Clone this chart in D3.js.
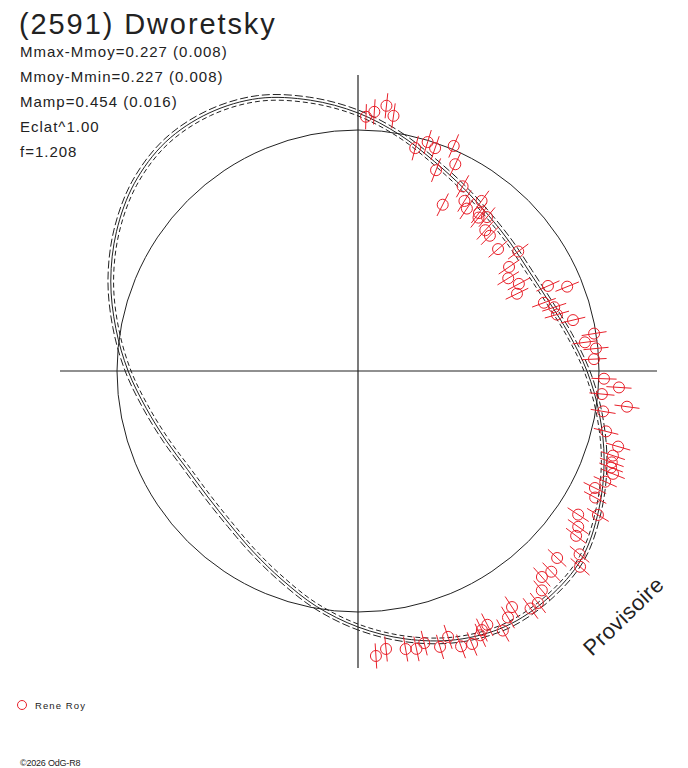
<!DOCTYPE html>
<html>
<head>
<meta charset="utf-8">
<script src="https://cdn.jsdelivr.net/npm/d3@7"></script>
<style>
  body { margin: 0; background: #fff; }
  svg text { font-family: "Liberation Sans", Arial, sans-serif; fill: #222; }
</style>
</head>
<body>
<script>
// observations (Rene Roy): rotation phase and relative magnitude
var obsPhase = [0.005, 0.010, 0.017, 0.022, 0.040, 0.047, 0.053, 0.059, 0.064, 0.070,
                0.075, 0.082, 0.089, 0.094, 0.100, 0.104, 0.106, 0.111, 0.117, 0.123,
                0.136, 0.148, 0.154, 0.162, 0.171, 0.178, 0.183, 0.189, 0.194, 0.200,
                0.206, 0.213, 0.225, 0.230, 0.235, 0.242, 0.255, 0.260, 0.265, 0.271,
                0.276, 0.288, 0.295, 0.301, 0.305, 0.308, 0.311, 0.317, 0.323, 0.328,
                0.336, 0.342, 0.348, 0.353, 0.360, 0.365, 0.370, 0.378, 0.384, 0.389,
                0.395, 0.400, 0.408, 0.413, 0.419, 0.425, 0.429, 0.431, 0.437, 0.443,
                0.448, 0.454, 0.462, 0.467, 0.473, 0.484, 0.490];
var obsMag = [-0.041, -0.064, -0.095, -0.055, 0.065, 0.025, 0.040, 0.129, 0.002, 0.072,
              0.255, 0.143, 0.194, 0.216, 0.152, 0.201, 0.218, 0.193, 0.241, 0.245,
              0.259, 0.197, 0.269, 0.299, 0.271, 0.298, 0.161, 0.085, 0.205, 0.169,
              0.167, 0.105, 0.026, 0.071, 0.026, 0.038, -0.005, -0.072, 0.000, -0.115,
              -0.015, -0.045, -0.113, -0.103, -0.108, -0.113, -0.131, -0.113, -0.084, -0.104,
              -0.152, -0.078, -0.108, -0.124, -0.186, -0.223, -0.123, -0.147, -0.136, -0.180,
              -0.212, -0.212, -0.161, -0.190, -0.228, -0.174, -0.184, -0.202, -0.222, -0.214,
              -0.156, -0.187, -0.153, -0.170, -0.162, -0.150, -0.177];
var obsErr = 0.055;

// fitted curve, read every 10 degrees of phase
var fitAngle = [0, 10, 20, 30, 40, 50, 60, 70, 80, 90, 100, 110,
                120, 130, 140, 150, 160, 170, 180, 190, 200, 210, 220, 230,
                240, 250, 260, 270, 280, 290, 300, 310, 320, 330, 340, 350];
var fitMag = [-0.057, 0.022, 0.096, 0.148, 0.183, 0.201, 0.205, 0.183, 0.135, 0.070, 0.000, -0.074,
              -0.144, -0.205, -0.223, -0.218, -0.179, -0.118, -0.048, 0.026, 0.100, 0.157, 0.197, 0.214,
              0.210, 0.179, 0.131, 0.066, -0.004, -0.079, -0.148, -0.205, -0.236, -0.231, -0.197, -0.131];
var fitSigma = 0.013;
var circleMag = 0.0175;

var infoLines = ["Mmax-Mmoy=0.227 (0.008)", "Mmoy-Mmin=0.227 (0.008)",
                 "Mamp=0.454 (0.016)", "Eclat^1.00", "f=1.208"];

var width = 688, height = 768;
var cx = 358, cy = 371, axisHalf = 297;

var svg = d3.select("body").append("svg")
    .attr("width", width)
    .attr("height", height);

// brighter = further out
var rScale = d3.scaleLinear()
    .domain([-0.3, 0.3])
    .range([245 + 0.3 * 229, 245 - 0.3 * 229]);

var plot = svg.append("g")
    .attr("transform", "translate(" + cx + "," + cy + ")");

plot.append("line")
    .attr("x1", -axisHalf - 1).attr("x2", axisHalf + 2)
    .attr("y1", 0).attr("y2", 0)
    .attr("stroke", "#222").attr("stroke-width", 1.2);
plot.append("line")
    .attr("x1", 0).attr("x2", 0)
    .attr("y1", -axisHalf + 1).attr("y2", axisHalf)
    .attr("stroke", "#222").attr("stroke-width", 1.2);

plot.append("circle")
    .attr("r", rScale(circleMag))
    .attr("fill", "none")
    .attr("stroke", "#222");

var fit = fitAngle.map(function(a, i) {
    return { phase: a / 360, mag: fitMag[i] };
});

function curveFor(offset) {
    return d3.lineRadial()
        .angle(function(d) { return d.phase * 2 * Math.PI; })
        .radius(function(d) { return rScale(d.mag + offset); })
        .curve(d3.curveCatmullRomClosed.alpha(0.5));
}

var curves = [
    { offset: -fitSigma, dash: "8,3" },
    { offset: fitSigma, dash: "5,3" },
    { offset: 0, dash: null }
];

plot.selectAll(".fit")
    .data(curves)
    .enter()
    .append("path")
    .attr("class", "fit")
    .attr("d", function(c) { return curveFor(c.offset)(fit); })
    .attr("fill", "none")
    .attr("stroke", "#222")
    .attr("stroke-width", 1)
    .attr("stroke-dasharray", function(c) { return c.dash; });

var obs = obsPhase.map(function(p, i) {
    return { phase: p, mag: obsMag[i] };
});

function polar(phase, r) {
    var a = phase * 2 * Math.PI;
    return [r * Math.sin(a), -r * Math.cos(a)];
}

var red = "#e8202a";

plot.selectAll(".errbar")
    .data(obs)
    .enter()
    .append("line")
    .attr("class", "errbar")
    .attr("x1", function(d) { return polar(d.phase, rScale(d.mag - obsErr))[0]; })
    .attr("y1", function(d) { return polar(d.phase, rScale(d.mag - obsErr))[1]; })
    .attr("x2", function(d) { return polar(d.phase, rScale(d.mag + obsErr))[0]; })
    .attr("y2", function(d) { return polar(d.phase, rScale(d.mag + obsErr))[1]; })
    .attr("stroke", red)
    .attr("stroke-width", 1);

plot.selectAll(".obs")
    .data(obs)
    .enter()
    .append("circle")
    .attr("class", "obs")
    .attr("cx", function(d) { return polar(d.phase, rScale(d.mag))[0]; })
    .attr("cy", function(d) { return polar(d.phase, rScale(d.mag))[1]; })
    .attr("r", 5.5)
    .attr("fill", "none")
    .attr("stroke", red)
    .attr("stroke-width", 1);

// texts
svg.append("text")
    .attr("x", 19).attr("y", 34)
    .style("font-size", "29px")
    .style("letter-spacing", "1.9px")
    .text("(2591) Dworetsky");

svg.selectAll(".info")
    .data(infoLines)
    .enter()
    .append("text")
    .attr("class", "info")
    .attr("x", 20)
    .attr("y", function(d, i) { return 57 + i * 25; })
    .style("font-size", "15px")
    .style("letter-spacing", "1px")
    .text(function(d) { return d; });

svg.append("text")
    .attr("transform", "translate(592,657) rotate(-44)")
    .style("font-size", "22px")
    .style("letter-spacing", "0.4px")
    .text("Provisoire");

svg.append("circle")
    .attr("cx", 22).attr("cy", 705).attr("r", 4.5)
    .attr("fill", "none")
    .attr("stroke", red);
svg.append("text")
    .attr("x", 35).attr("y", 709)
    .style("font-size", "9.5px")
    .style("letter-spacing", "1.1px")
    .text("Rene Roy");

svg.append("text")
    .attr("x", 20).attr("y", 766)
    .style("font-size", "9px")
    .style("letter-spacing", "-0.2px")
    .text("\u00a92026 OdG-R8");
</script>
</body>
</html>
